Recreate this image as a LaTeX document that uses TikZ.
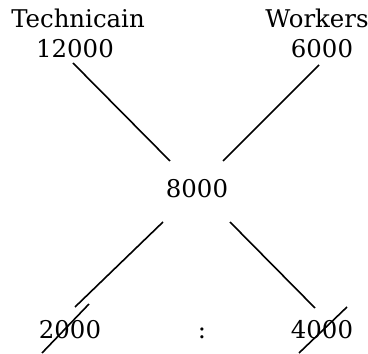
\documentclass[tikz,border=0pt]{standalone}
\usepackage{fontspec}
\setmainfont{DejaVu Serif}
\begin{document}
\begin{tikzpicture}[x=1bp,y=1bp,
  lbl/.style={anchor=base,inner sep=0pt,font=\fontsize{24.5}{28}\selectfont},
  link/.style={line width=1.6bp,line cap=butt}]
\useasboundingbox (0,0) rectangle (368,354);
% labels (base line positions)
\node[lbl] (tech) at (78,327) {Technicain};
\node[lbl] (work) at (317,327) {Workers};
\node[lbl] (tval) at (75,297) {12000};
\node[lbl] (wval) at (322,297) {6000};
\node[lbl] (mid)  at (197,157) {8000};
\node[lbl] (lres) at (70,16) {2000};
\node[lbl] (colon) at (202,16) {:};
\node[lbl] (rres) at (322,16) {4000};
% line end points
\coordinate (a1) at (73,291);  \coordinate (a2) at (170,193);
\coordinate (b1) at (319,289); \coordinate (b2) at (223,193);
\coordinate (c1) at (163,132); \coordinate (c2) at (75,47);
\coordinate (d1) at (230,132); \coordinate (d2) at (315,46);
\coordinate (e1) at (89,50);   \coordinate (e2) at (42,1);
\coordinate (f1) at (347,47);  \coordinate (f2) at (299,1);
\draw[link] (a1) -- (a2);
\draw[link] (b1) -- (b2);
\draw[link] (c1) -- (c2);
\draw[link] (d1) -- (d2);
\draw[link] (e1) -- (e2);
\draw[link] (f1) -- (f2);
\end{tikzpicture}
\end{document}
